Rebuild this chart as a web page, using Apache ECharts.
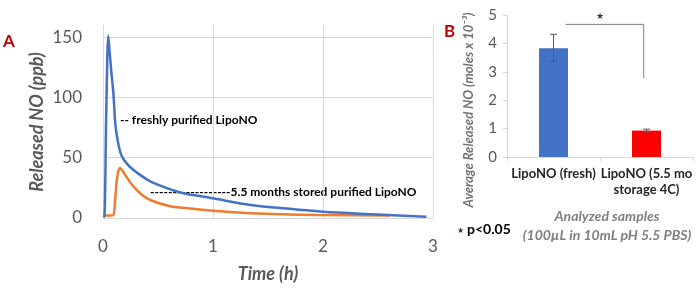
<!DOCTYPE html>
<html>
<head>
<meta charset="utf-8">
<script src="https://cdn.jsdelivr.net/npm/echarts@6/dist/echarts.min.js"></script>
<style>
  html, body { margin: 0; padding: 0; background: #fff; }
  #main { width: 697px; height: 288px; }
</style>
</head>
<body>
<div id="main"></div>
<script>
// panel A: released NO over time (h, ppb)
var freshTime = [0.003, 0.012, 0.03, 0.048, 0.06, 0.079, 0.094, 0.113, 0.136, 0.167, 0.227, 0.318, 0.439, 0.636, 0.73, 1.0, 1.34, 1.64, 2.0, 2.4, 2.94]
var freshNO = [1, 1, 90, 151, 138, 118, 104, 77, 63, 52, 44, 37, 30, 23, 20.5, 16.3, 10.8, 8, 5.2, 3.3, 1.1]
var storedTime = [0, 0.05, 0.094, 0.11, 0.124, 0.14, 0.155, 0.17, 0.2, 0.26, 0.35, 0.44, 0.62, 0.73, 1.0, 1.34, 1.94, 2.61]
var storedNO = [2, 2, 2.5, 15, 30, 39, 41.5, 40, 36, 28, 19.5, 14.5, 9.5, 8.5, 6, 4, 2.5, 2]

// panel B: average released NO (moles x 10^-3)
var sampleNames = ['LipoNO (fresh)', 'LipoNO (5.5 mo\nstorage 4C)']
var avgNO = [3.83, 0.93]
var errLow = [3.36, 0.88]
var errHigh = [4.32, 0.98]
var barColors = ['#4472c4', '#ff0000']
// significance bracket: from sample, to sample, top, bottom of right leg
var bracket = [[0, 1, 4.67, 2.78]]

var font = 'Lato'
var gray = '#595959'

function pairs (xs, ys) {
  var out = []
  for (var i = 0; i < xs.length; i++) out.push([xs[i], ys[i]])
  return out
}

var chart = echarts.init(document.getElementById('main'))

var option = {
  animation: false,
  textStyle: { fontFamily: font },
  grid: [
    { left: 103, right: 264, top: 25, bottom: 70, containLabel: false, outerBoundsMode: 'none' },
    { left: 507, right: 4, top: 15, bottom: 131, containLabel: false, outerBoundsMode: 'none' }
  ],
  xAxis: [
    {
      gridIndex: 0,
      type: 'value',
      min: 0,
      max: 3,
      interval: 1,
      axisLine: { show: true, lineStyle: { color: '#d9d9d9' } },
      axisTick: { show: false },
      axisLabel: { fontSize: 17, color: gray, margin: 20, fontFamily: font },
      splitLine: { show: true, lineStyle: { color: '#d9d9d9' } }
    },
    {
      gridIndex: 1,
      type: 'category',
      data: sampleNames,
      axisLine: { show: true, lineStyle: { color: '#d9d9d9' } },
      axisTick: { show: true, length: 4, lineStyle: { color: '#d9d9d9' } },
      axisLabel: { fontSize: 13, fontWeight: 'bold', color: '#262626', margin: 9, lineHeight: 16, interval: 0, fontFamily: font }
    }
  ],
  yAxis: [
    {
      gridIndex: 0,
      type: 'value',
      min: 0,
      max: 160,
      interval: 50,
      axisLine: { show: false },
      axisTick: { show: false },
      axisLabel: { fontSize: 17, color: gray, margin: 21, showMaxLabel: false, fontFamily: font },
      splitLine: { show: true, showMaxLine: false, lineStyle: { color: '#d9d9d9' } }
    },
    {
      gridIndex: 1,
      type: 'value',
      min: 0,
      max: 5,
      interval: 1,
      axisLine: { show: true, lineStyle: { color: '#d9d9d9' } },
      axisTick: { show: true, length: 4, lineStyle: { color: '#d9d9d9' } },
      axisLabel: { fontSize: 15, color: gray, margin: 10, fontFamily: font },
      splitLine: { show: false }
    }
  ],
  series: [
    {
      type: 'line',
      xAxisIndex: 0,
      yAxisIndex: 0,
      data: pairs(storedTime, storedNO),
      showSymbol: false,
      smooth: 0.3,
      lineStyle: { color: '#ed7d31', width: 2.5 },
      itemStyle: { color: '#ed7d31' }
    },
    {
      type: 'line',
      xAxisIndex: 0,
      yAxisIndex: 0,
      data: pairs(freshTime, freshNO),
      showSymbol: false,
      smooth: 0.3,
      lineStyle: { color: '#4472c4', width: 2.5 },
      itemStyle: { color: '#4472c4' }
    },
    {
      type: 'bar',
      xAxisIndex: 1,
      yAxisIndex: 1,
      barWidth: 29,
      data: avgNO.map(function (v, i) {
        return { value: v, itemStyle: { color: barColors[i] } }
      })
    },
    {
      type: 'custom',
      xAxisIndex: 1,
      yAxisIndex: 1,
      data: avgNO.map(function (v, i) { return [i, errLow[i], errHigh[i]] }),
      encode: { x: 0, y: [1, 2] },
      z: 5,
      renderItem: function (params, api) {
        var lo = api.coord([api.value(0), api.value(1)])
        var hi = api.coord([api.value(0), api.value(2)])
        var w = 3.5
        var st = { stroke: gray, lineWidth: 1 }
        return {
          type: 'group',
          children: [
            { type: 'line', shape: { x1: lo[0], y1: lo[1], x2: hi[0], y2: hi[1] }, style: st },
            { type: 'line', shape: { x1: lo[0] - w, y1: lo[1], x2: lo[0] + w, y2: lo[1] }, style: st },
            { type: 'line', shape: { x1: hi[0] - w, y1: hi[1], x2: hi[0] + w, y2: hi[1] }, style: st }
          ]
        }
      }
    },
    {
      type: 'custom',
      xAxisIndex: 1,
      yAxisIndex: 1,
      data: bracket,
      encode: { x: [0, 1], y: [2, 3] },
      z: 5,
      renderItem: function (params, api) {
        var band = api.size([1, 0])[0]
        var a = api.coord([api.value(0), api.value(2)])
        var b = api.coord([api.value(1), api.value(2)])
        var c = api.coord([api.value(1), api.value(3)])
        var x1 = a[0] + band * 0.13
        var x2 = b[0] - band * 0.03
        var st = { stroke: '#7f7f7f', lineWidth: 1 }
        return {
          type: 'group',
          children: [
            { type: 'line', shape: { x1: x1, y1: a[1], x2: x2, y2: b[1] }, style: st },
            { type: 'line', shape: { x1: x2, y1: b[1], x2: x2, y2: c[1] }, style: st },
            {
              type: 'text',
              style: { text: '★', x: (a[0] + b[0]) / 2, y: a[1] - 8, align: 'center', verticalAlign: 'middle', fill: '#1f3864', font: '9px ' + font }
            }
          ]
        }
      }
    }
  ],
  graphic: [
    { type: 'text', left: 3, top: 33, style: { text: 'A', fill: '#c00000', font: 'bold 17px ' + font } },
    { type: 'text', left: 444, top: 23, style: { text: 'B', fill: '#c00000', font: 'bold 17px ' + font } },
    // axis titles
    {
      type: 'text',
      x: 268,
      y: 274,
      style: { text: 'Time (h)', align: 'center', verticalAlign: 'middle', fill: gray, font: 'italic bold 18px ' + font }
    },
    {
      type: 'text',
      x: 37,
      y: 122,
      rotation: Math.PI / 2,
      style: { text: 'Released NO (ppb)', align: 'center', verticalAlign: 'middle', fill: gray, font: 'italic bold 18px ' + font }
    },
    {
      type: 'text',
      x: 469,
      y: 110,
      rotation: Math.PI / 2,
      style: { text: 'Average Released NO (moles x 10⁻³)', align: 'center', verticalAlign: 'middle', fill: '#767171', font: 'italic bold 13px ' + font }
    },
    {
      type: 'text',
      x: 607,
      y: 226,
      style: { text: 'Analyzed samples\n(100µL in 10mL pH 5.5 PBS)', align: 'center', verticalAlign: 'middle', lineHeight: 19, fill: '#7f7f7f', font: 'italic bold 14px ' + font }
    },
    // annotations
    { type: 'text', left: 120, top: 114, style: { text: '-- freshly purified LipoNO', fill: '#000', font: 'bold 12px ' + font } },
    { type: 'text', left: 150, top: 186, style: { text: '------------------5.5 months stored purified LipoNO', fill: '#000', font: 'bold 12px ' + font } },
    { type: 'text', left: 457, top: 226, style: { text: '★', fill: '#1f3864', font: '8px ' + font } },
    { type: 'text', left: 467, top: 222, style: { text: 'p<0.05', fill: '#000', font: 'bold 14px ' + font } }
  ]
}

chart.setOption(option)
</script>
</body>
</html>
